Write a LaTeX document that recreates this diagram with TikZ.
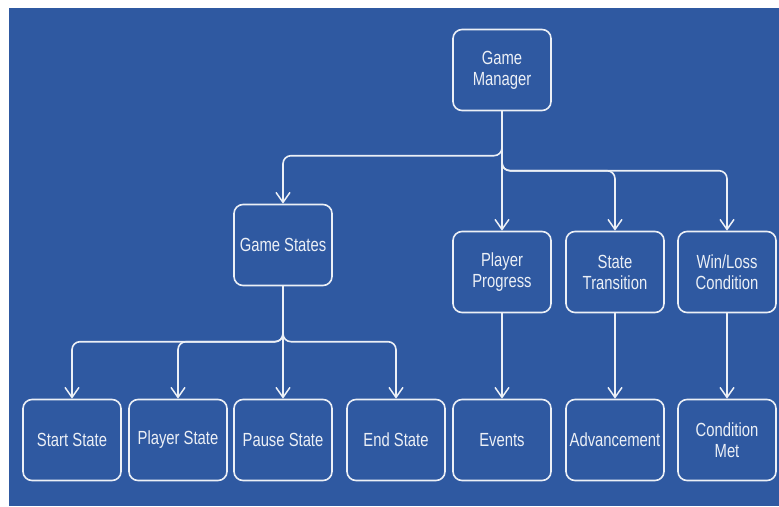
\documentclass[tikz,border=0pt]{standalone}
\usepackage{fontspec}
\setmainfont{Liberation Sans}[FakeStretch=0.78]
\usetikzlibrary{arrows.meta,calc}
\definecolor{boardblue}{RGB}{47,89,161}
\definecolor{chalk}{RGB}{236,240,246}
\begin{document}
\begin{tikzpicture}[x=1pt,y=-1pt,
  box/.style={draw=chalk, line width=1.6pt, rounded corners=9pt,
    minimum width=98pt, minimum height=81pt, align=center, text=chalk,
    font=\fontsize{19}{21}\selectfont, inner sep=2pt},
  conn/.style={draw=chalk, line width=1.6pt, rounded corners=8pt,
    -{Straight Barb[length=10pt,width=14pt,line width=1.5pt]}}]
\useasboundingbox (0,0) rectangle (779,506);
\fill[white] (0,0) rectangle (779,506);
\fill[boardblue] (9,8) rectangle (779,506);

% top level
\node[box] (gm) at (502,70) {Game\\Manager};

% second level
\node[box] (gs) at (283,245) {Game States};
\node[box] (pp) at (502,272) {Player\\Progress};
\node[box] (st) at (615,272) {State\\Transition};
\node[box] (wl) at (727,272) {Win/Loss\\Condition};

% bottom row
\node[box] (ss) at (72,440) {Start State};
\node[box] (ps) at (178,440) {Player State};
\node[box] (pa) at (283,440) {Pause State};
\node[box] (es) at (396,440) {End State};
\node[box] (ev) at (502,440) {Events};
\node[box] (ad) at (615,440) {Advancement};
\node[box] (cm) at (727,440) {Condition\\Met};

% branches out of the game manager
\draw[conn] (gm.south) |- ($(gs.north)+(0,-48)$) -- (gs.north);
\draw[conn] (gm.south) -- (pp.north);
\draw[conn] (gm.south) |- ($(st.north)+(0,-60)$) -- (st.north);
\draw[conn] (gm.south) |- ($(wl.north)+(0,-60)$) -- (wl.north);

% branches out of the game states
\draw[conn] (gs.south) |- ($(ss.north)+(0,-57)$) -- (ss.north);
\draw[conn] (gs.south) |- ($(ps.north)+(0,-57)$) -- (ps.north);
\draw[conn] (gs.south) -- (pa.north);
\draw[conn] (gs.south) |- ($(es.north)+(0,-57)$) -- (es.north);

% straight drops
\draw[conn] (pp.south) -- (ev.north);
\draw[conn] (st.south) -- (ad.north);
\draw[conn] (wl.south) -- (cm.north);
\end{tikzpicture}
\end{document}
